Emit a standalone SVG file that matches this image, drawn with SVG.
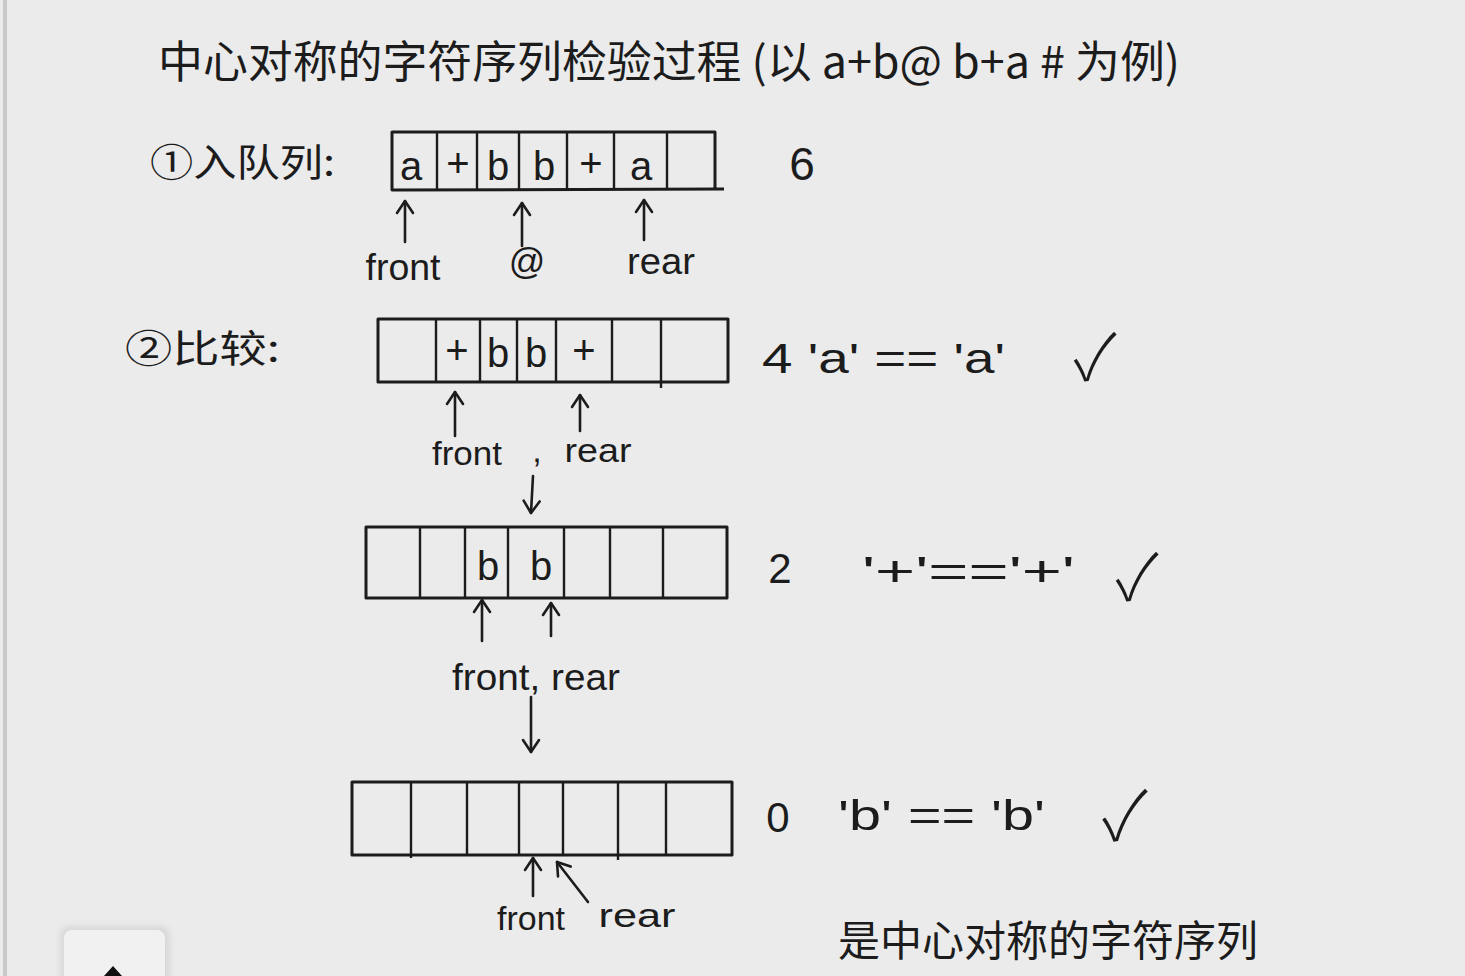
<svg xmlns="http://www.w3.org/2000/svg" width="1465" height="976" viewBox="0 0 1465 976">
<defs>
<marker id="ah" viewBox="0 0 20 20" refX="16" refY="10" markerWidth="20" markerHeight="20" markerUnits="userSpaceOnUse" orient="auto">
<path d="M4,2 L16,10 L4,18" fill="none" stroke="#1c1c1c" stroke-width="2.6" stroke-linecap="round" stroke-linejoin="round"/>
</marker>
<filter id="sh" x="-20%" y="-20%" width="140%" height="140%"><feGaussianBlur stdDeviation="3"/></filter>
</defs>
<style>
.t{font-family:"Noto Sans CJK SC","Liberation Sans",sans-serif;fill:#1c1c1c;font-weight:400}
.l{font-family:"Liberation Sans","DejaVu Sans",sans-serif;fill:#1c1c1c}
.c{text-anchor:middle}
.box{fill:none;stroke:#1c1c1c;stroke-width:3;stroke-linejoin:round}
.div{stroke:#1c1c1c;stroke-width:2.4}
.arr{fill:none;stroke:#1c1c1c;stroke-width:2.6;stroke-linecap:round}
.ck{font-family:"Noto Sans CJK SC","DejaVu Sans",sans-serif;fill:#1c1c1c;text-anchor:middle;font-weight:300}
</style>
<rect width="1465" height="976" fill="#ebebeb"/>
<rect x="3" y="0" width="4" height="976" fill="#c9c9c9"/>
<rect x="60" y="926" width="110" height="70" rx="10" fill="#d8d8d8" filter="url(#sh)"/>
<rect x="64" y="930" width="101" height="60" rx="8" fill="#f1f1f1"/>
<path d="M104,976 L113,966 L122,976 Z" fill="#111"/>

<g id="title">
<text class="t" x="158" y="78" font-size="44" textLength="1022" lengthAdjust="spacingAndGlyphs">中心对称的字符序列检验过程 (以 a+b@ b+a # 为例)</text>
</g>

<g id="step1-label"><text class="t" x="150" y="176" font-size="38" textLength="185" lengthAdjust="spacingAndGlyphs">①入队列:</text></g>

<g id="queue1">
<path class="box" d="M724,189 L392,190 L392,132 L715,132 L715,189"/>
<line class="div" x1="437" y1="132" x2="437" y2="190"/>
<line class="div" x1="477" y1="132" x2="477" y2="190"/>
<line class="div" x1="519" y1="132" x2="519" y2="190"/>
<line class="div" x1="567" y1="132" x2="567" y2="190"/>
<line class="div" x1="614" y1="132" x2="614" y2="190"/>
<line class="div" x1="667" y1="132" x2="667" y2="190"/>
<g class="l c" font-size="40">
<text x="411" y="180">a</text><text x="458" y="177">+</text><text x="498" y="180">b</text><text x="544" y="180">b</text><text x="591" y="177">+</text><text x="641" y="180">a</text>
</g>
</g>
<g id="count1"><text class="l c" x="802" y="180" font-size="46">6</text></g>
<g id="q1-labels" class="l c" font-size="36">
<text x="403" y="280" textLength="75" lengthAdjust="spacingAndGlyphs">front</text>
<text x="527" y="274">@</text>
<text x="661" y="274" textLength="68" lengthAdjust="spacingAndGlyphs">rear</text>
</g>

<g id="step2-label"><text class="t" x="125" y="362" font-size="38" textLength="155" lengthAdjust="spacingAndGlyphs">②比较:</text></g>

<g id="queue2">
<rect class="box" x="378" y="319" width="350" height="63"/>
<line class="div" x1="436" y1="319" x2="436" y2="382"/>
<line class="div" x1="480" y1="319" x2="480" y2="382"/>
<line class="div" x1="517" y1="319" x2="517" y2="382"/>
<line class="div" x1="556" y1="319" x2="556" y2="382"/>
<line class="div" x1="612" y1="319" x2="612" y2="382"/>
<line class="div" x1="661" y1="319" x2="661" y2="388"/>
<g class="l c" font-size="40">
<text x="457" y="364">+</text><text x="498" y="367">b</text><text x="536" y="367">b</text><text x="584" y="364">+</text>
</g>
</g>
<g id="cmp1">
<text class="l" x="762" y="373" font-size="42" textLength="243" lengthAdjust="spacingAndGlyphs">4 'a' == 'a'</text>
<text class="ck" x="1095" y="380" font-size="64">✓</text>
</g>
<g id="q2-labels" class="l c" font-size="34">
<text x="467" y="465" textLength="70" lengthAdjust="spacingAndGlyphs">front</text>
<text x="537" y="462">,</text>
<text x="598" y="462" textLength="67" lengthAdjust="spacingAndGlyphs">rear</text>
</g>

<g id="queue3">
<rect class="box" x="366" y="527" width="361" height="71"/>
<line class="div" x1="420" y1="527" x2="420" y2="598"/>
<line class="div" x1="465" y1="527" x2="465" y2="598"/>
<line class="div" x1="508" y1="527" x2="508" y2="598"/>
<line class="div" x1="564" y1="527" x2="564" y2="598"/>
<line class="div" x1="610" y1="527" x2="610" y2="598"/>
<line class="div" x1="663" y1="527" x2="663" y2="598"/>
<g class="l c" font-size="40">
<text x="488" y="580">b</text><text x="541" y="580">b</text>
</g>
</g>
<g id="cmp2">
<text class="l c" x="780" y="583" font-size="42">2</text>
<text class="l" x="862" y="586" font-size="42" textLength="213" lengthAdjust="spacingAndGlyphs">'+'=='+'</text>
<text class="ck" x="1137" y="600" font-size="64">✓</text>
</g>
<g id="q3-labels"><text class="l c" x="536" y="690" font-size="36" textLength="168" lengthAdjust="spacingAndGlyphs">front, rear</text></g>

<g id="queue4">
<rect class="box" x="352" y="782" width="380" height="73"/>
<line class="div" x1="411" y1="782" x2="411" y2="858"/>
<line class="div" x1="467" y1="782" x2="467" y2="855"/>
<line class="div" x1="519" y1="782" x2="519" y2="855"/>
<line class="div" x1="563" y1="782" x2="563" y2="855"/>
<line class="div" x1="618" y1="782" x2="618" y2="860"/>
<line class="div" x1="666" y1="782" x2="666" y2="855"/>
</g>
<g id="cmp3">
<text class="l c" x="778" y="832" font-size="42">0</text>
<text class="l" x="838" y="830" font-size="42" textLength="207" lengthAdjust="spacingAndGlyphs">'b' == 'b'</text>
<text class="ck" x="1125" y="840" font-size="68">✓</text>
</g>
<g id="q4-labels" class="l c" font-size="34">
<text x="531" y="930" textLength="68" lengthAdjust="spacingAndGlyphs">front</text>
<text x="637" y="927" textLength="77" lengthAdjust="spacingAndGlyphs">rear</text>
</g>

<g id="result"><text class="t" x="838" y="956" font-size="42" textLength="420" lengthAdjust="spacingAndGlyphs">是中心对称的字符序列</text></g>

<g id="connectors">
<line class="arr" x1="405" y1="242" x2="405" y2="201" marker-end="url(#ah)"/>
<line class="arr" x1="522" y1="246" x2="522" y2="203" marker-end="url(#ah)"/>
<line class="arr" x1="644" y1="240" x2="644" y2="200" marker-end="url(#ah)"/>
<line class="arr" x1="455" y1="436" x2="455" y2="392" marker-end="url(#ah)"/>
<line class="arr" x1="580" y1="431" x2="580" y2="395" marker-end="url(#ah)"/>
<line class="arr" x1="533" y1="476" x2="531" y2="513" marker-end="url(#ah)"/>
<line class="arr" x1="482" y1="641" x2="482" y2="600" marker-end="url(#ah)"/>
<line class="arr" x1="551" y1="636" x2="551" y2="603" marker-end="url(#ah)"/>
<line class="arr" x1="531" y1="697" x2="531" y2="752" marker-end="url(#ah)"/>
<line class="arr" x1="533" y1="896" x2="533" y2="858" marker-end="url(#ah)"/>
<line class="arr" x1="588" y1="902" x2="557" y2="862" marker-end="url(#ah)"/>
</g>
</svg>
